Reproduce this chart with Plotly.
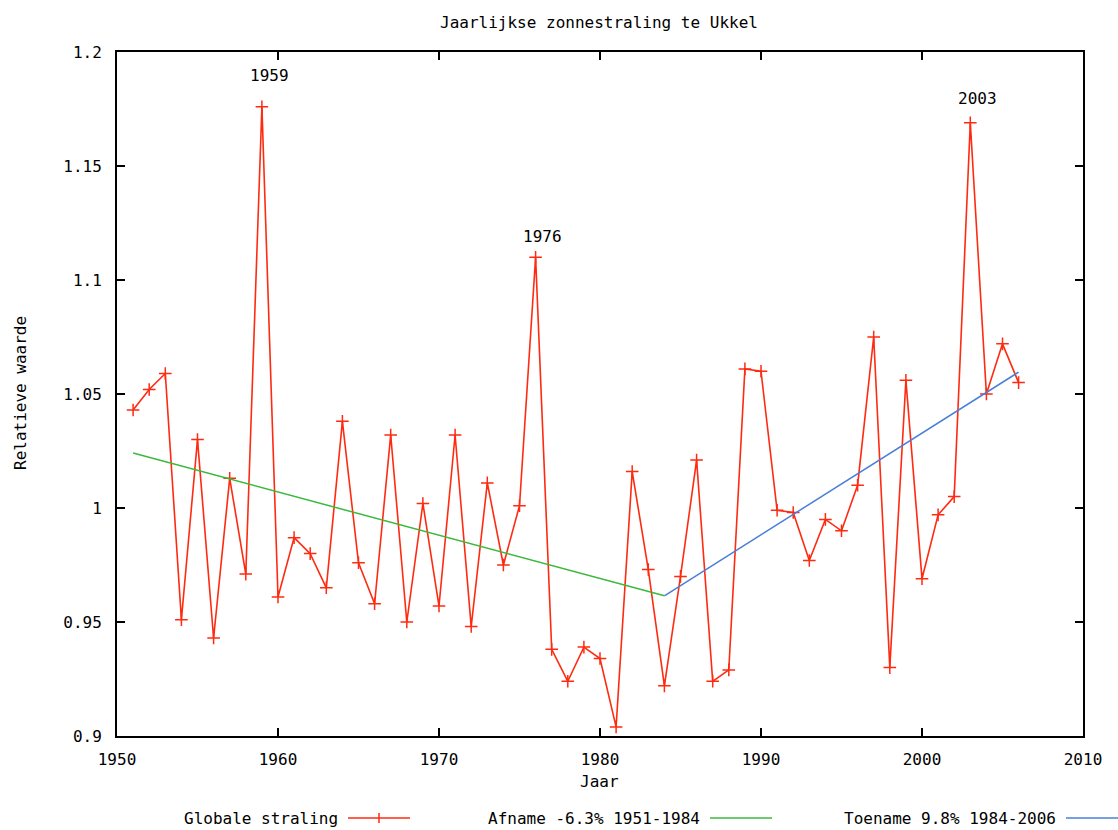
import plotly.graph_objects as go

years = list(range(1951, 2007))
values = [
    1.043, 1.052, 1.059, 0.951, 1.030, 0.943, 1.013, 0.971, 1.176, 0.961,
    0.987, 0.980, 0.965, 1.038, 0.976, 0.958, 1.032, 0.950, 1.002, 0.957,
    1.032, 0.948, 1.011, 0.975, 1.001, 1.110, 0.938, 0.924, 0.939, 0.934,
    0.904, 1.016, 0.973, 0.922, 0.970, 1.021, 0.924, 0.929, 1.061, 1.060,
    0.999, 0.998, 0.977, 0.995, 0.990, 1.010, 1.075, 0.930, 1.056, 0.969,
    0.997, 1.005, 1.169, 1.050, 1.072, 1.055,
]
trend_down_x = [1951, 1984]
trend_down_y = [1.0241, 0.9615]
trend_up_x = [1984, 2006]
trend_up_y = [0.9615, 1.0596]

peak_labels = ["1959", "1976", "2003"]
peak_label_x = [1959.45, 1976.45, 2003.45]
peak_label_y = [1.1895, 1.1189, 1.1798]

x_ticks = [1950, 1960, 1970, 1980, 1990, 2000, 2010]
y_ticks = [0.9, 0.95, 1.0, 1.05, 1.1, 1.15, 1.2]
y_tick_text = ["0.9", "0.95", "1", "1.05", "1.1", "1.15", "1.2"]

legend_names = ["Globale straling", "Afname -6.3% 1951-1984", "Toename 9.8% 1984-2006"]

RED = "#ff2a10"
GREEN = "#3cb83c"
BLUE = "#4a7fd8"
FONT = "DejaVu Sans Mono"

fig = go.Figure()
fig.add_trace(go.Scatter(
    x=years, y=values, mode="lines+markers",
    line=dict(color=RED, width=1.6),
    marker=dict(symbol="cross-thin", size=9, line=dict(color=RED, width=1.5)),
    showlegend=False, name=legend_names[0],
))
fig.add_trace(go.Scatter(
    x=trend_down_x, y=trend_down_y, mode="lines",
    line=dict(color=GREEN, width=1.5), showlegend=False, name=legend_names[1],
))
fig.add_trace(go.Scatter(
    x=trend_up_x, y=trend_up_y, mode="lines",
    line=dict(color=BLUE, width=1.5), showlegend=False, name=legend_names[2],
))

for t, xx, yy in zip(peak_labels, peak_label_x, peak_label_y):
    fig.add_annotation(x=xx, y=yy, text=t, showarrow=False, yanchor="middle",
                       font=dict(family=FONT, size=16, color="black"))

# axis titles
fig.add_annotation(xref="paper", yref="paper", x=(20 - 117) / 966, y=(736 - 393) / 684,
                   xanchor="center", yanchor="middle",
                   text="Relatieve waarde", textangle=-90, showarrow=False,
                   font=dict(family=FONT, size=16, color="black"))
fig.add_annotation(xref="paper", yref="paper", x=(599 - 117) / 966, y=(736 - 782) / 684,
                   xanchor="center", yanchor="middle",
                   text="Jaar", showarrow=False,
                   font=dict(family=FONT, size=16, color="black"))

# custom gnuplot-like legend: text then sample line
leg_y = (736 - 818) / 684
samples = [(348, 410, RED, True), (710, 772, GREEN, False), (1066, 1128, BLUE, False)]
for name, (x0, x1, col, cross) in zip(legend_names, samples):
    fig.add_annotation(xref="paper", yref="paper", x=(x0 - 8 - 117) / 966, y=leg_y,
                       xanchor="right", yanchor="middle", text=name, showarrow=False,
                       font=dict(family=FONT, size=16, color="black"))
    fig.add_shape(type="line", xref="paper", yref="paper",
                  x0=(x0 - 117) / 966, x1=(x1 - 117) / 966, y0=leg_y, y1=leg_y,
                  line=dict(color=col, width=1.5))
    if cross:
        xc = ((x0 + x1) / 2 - 117) / 966
        fig.add_shape(type="line", xref="paper", yref="paper",
                      x0=xc, x1=xc, y0=leg_y - 5 / 684, y1=leg_y + 5 / 684,
                      line=dict(color=col, width=1.5))

fig.update_layout(
    width=1118, height=830,
    margin=dict(l=117, r=35, t=52, b=94),
    paper_bgcolor="white", plot_bgcolor="white",
    title=dict(text="Jaarlijkse zonnestraling te Ukkel", x=(599) / 1118, xanchor="center",
               y=1 - 22 / 830, yanchor="middle",
               font=dict(family=FONT, size=16, color="black")),
    font=dict(family=FONT, size=16, color="black"),
    xaxis=dict(range=[1950, 2010], tickvals=x_ticks, ticktext=[str(v) for v in x_ticks],
               showgrid=False, zeroline=False, showline=True, linecolor="black", linewidth=2,
               mirror="ticks", ticks="inside", ticklen=8, tickwidth=1.5, tickcolor="black",
               ticklabelstandoff=8,
               tickfont=dict(family=FONT, size=16)),
    yaxis=dict(range=[0.9, 1.2], tickvals=y_ticks, ticktext=y_tick_text,
               showgrid=False, zeroline=False, showline=True, linecolor="black", linewidth=2,
               mirror="ticks", ticks="inside", ticklen=8, tickwidth=1.5, tickcolor="black",
               ticklabelstandoff=10,
               tickfont=dict(family=FONT, size=16)),
)

fig.write_html("out.html")
